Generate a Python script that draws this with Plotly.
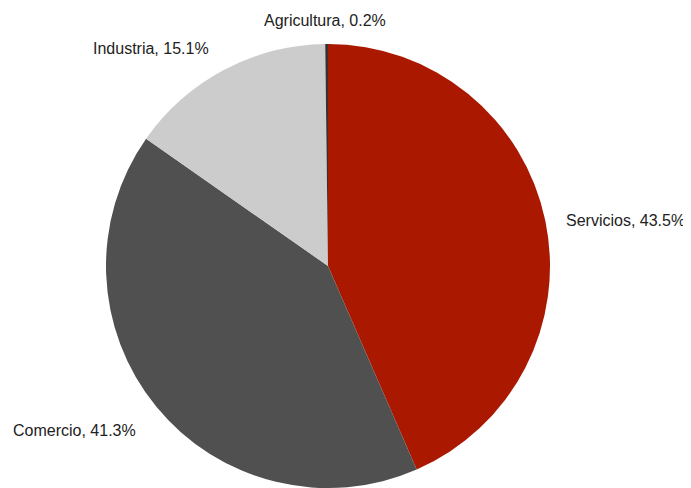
import plotly.graph_objects as go

labels = ["Servicios", "Comercio", "Industria", "Agricultura"]
values = [43.5, 41.3, 15.1, 0.2]
colors = ["#AA1800", "#505050", "#CCCCCC", "#333333"]

# page body adds an 8px offset, so the figure is sized to fit the 691x488 window
W, H = 683, 480

# pie geometry in figure pixels
cx, cy, r = 320, 258, 222

fig = go.Figure(go.Pie(
    labels=labels,
    values=values,
    sort=False,
    direction="clockwise",
    rotation=0,
    marker=dict(colors=colors, line=dict(width=0)),
    textinfo="none",
    showlegend=False,
    hoverinfo="label+value",
    automargin=False,
    domain=dict(x=[(cx - r) / W, (cx + r) / W],
                y=[(H - cy - r) / H, (H - cy + r) / H]),
))

# label centres in figure pixels
label_pos = {
    "Agricultura": (317, 12),
    "Industria": (142.5, 40),
    "Servicios": (617, 212),
    "Comercio": (66.5, 422),
}

annotations = []
for lab, val in zip(labels, values):
    px, py = label_pos[lab]
    annotations.append(dict(
        x=px / W, y=1 - py / H, xref="paper", yref="paper",
        xanchor="center", yanchor="middle", showarrow=False,
        text=f"{lab}, {val:.1f}%",
        font=dict(family="Liberation Sans, Arial, sans-serif", size=16, color="#222222"),
    ))

fig.update_layout(
    width=W, height=H,
    margin=dict(l=0, r=0, t=0, b=0),
    paper_bgcolor="white",
    plot_bgcolor="white",
    annotations=annotations,
)

fig.write_html("out.html")
